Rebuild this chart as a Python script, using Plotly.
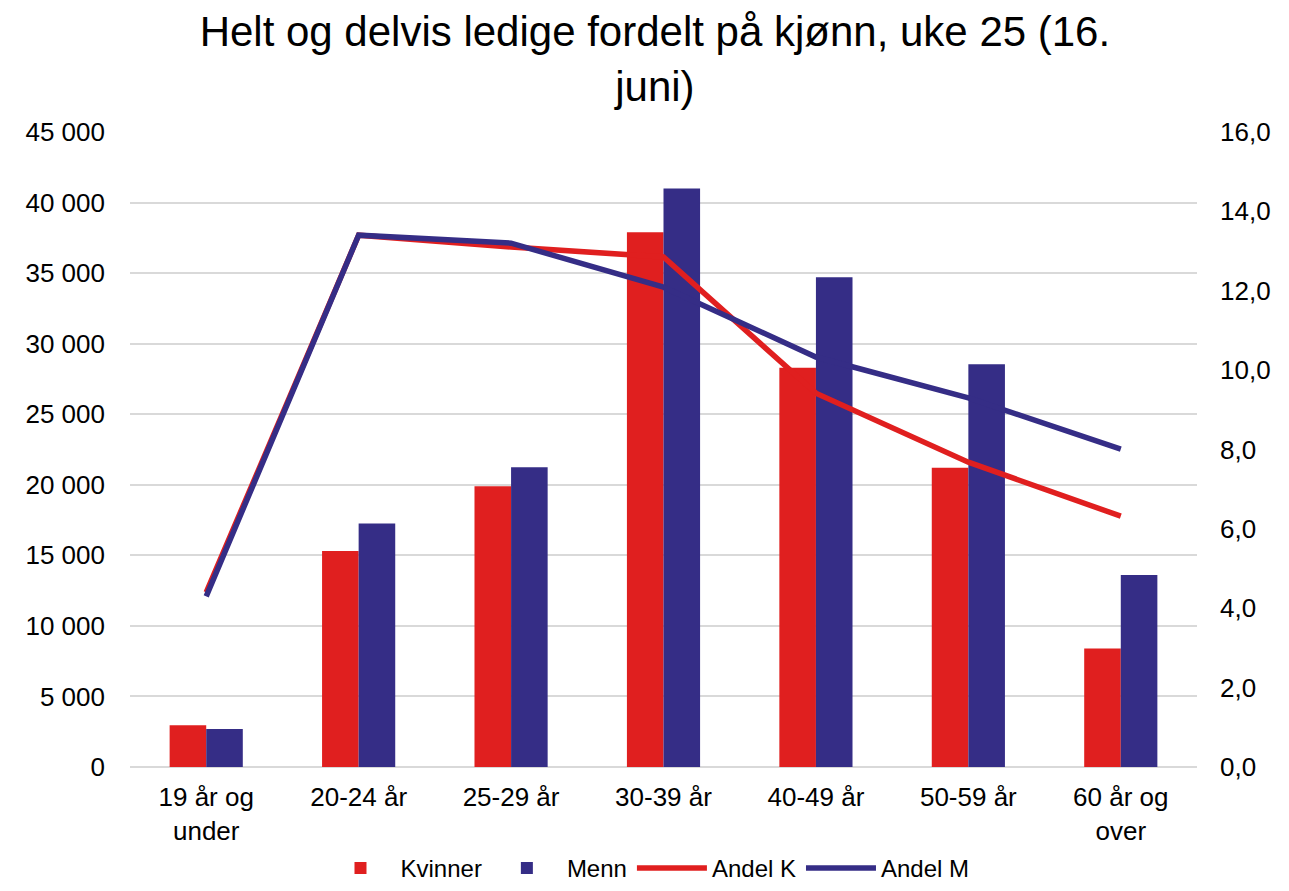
import plotly.graph_objects as go

categories = ["19 år og<br>under", "20-24 år", "25-29 år", "30-39 år", "40-49 år", "50-59 år", "60 år og<br>over"]
kvinner = [2950, 15300, 19900, 37900, 28300, 21200, 8400]
menn = [2700, 17250, 21250, 41000, 34700, 28550, 13600]
andel_k = [4.40, 13.40, 13.10, 12.85, 9.42, 7.68, 6.32]
andel_m = [4.30, 13.40, 13.20, 12.09, 10.33, 9.30, 8.01]

RED = "#e01f1f"
BLUE = "#352d86"
FONT = "Liberation Sans, Arial, sans-serif"

fig = go.Figure()
fig.add_trace(go.Bar(x=categories, y=kvinner, name="Kvinner", marker=dict(color=RED, line=dict(width=0))))
fig.add_trace(go.Bar(x=categories, y=menn, name="Menn", marker=dict(color=BLUE, line=dict(width=0))))
fig.add_trace(go.Scatter(x=categories, y=andel_k, name="Andel K", mode="lines",
                         line=dict(color=RED, width=5.5), yaxis="y2"))
fig.add_trace(go.Scatter(x=categories, y=andel_m, name="Andel M", mode="lines",
                         line=dict(color=BLUE, width=5.5), yaxis="y2"))

fig.update_layout(
    width=1281, height=883,
    separators=", ",
    paper_bgcolor="white", plot_bgcolor="white",
    font=dict(family=FONT, size=26, color="#000000"),
    title=dict(text="Helt og delvis ledige fordelt på kjønn, uke 25 (16.<br>juni)",
               x=0.505, xanchor="center", yref="container", y=0.957, yanchor="middle",
               font=dict(family=FONT, size=42, color="#000000")),
    margin=dict(l=122, r=92, t=124, b=124),
    barmode="group", bargap=0.52, bargroupgap=0,
    xaxis=dict(showgrid=False, showline=False, ticks="", tickfont=dict(size=26),
               ticklabelstandoff=12, automargin=False),
    yaxis=dict(range=[0, 45000], dtick=5000, tickformat=",d", showgrid=True,
               gridcolor="#d9d9d9", gridwidth=2, zeroline=True, zerolinecolor="#d9d9d9",
               zerolinewidth=2, ticks="", ticklabelstandoff=24, tickfont=dict(size=26),
               automargin=False),
    yaxis2=dict(range=[0, 16], dtick=2, tickformat=".1f", overlaying="y", side="right",
                showgrid=False, zeroline=False, ticks="", ticklabelstandoff=22,
                tickfont=dict(size=26), automargin=False),
    legend=dict(orientation="h", x=0.485, xanchor="center", yref="container", y=-0.026,
                yanchor="bottom", font=dict(size=24), traceorder="normal", itemwidth=70),
    showlegend=True,
)

fig.write_html("out.html")
